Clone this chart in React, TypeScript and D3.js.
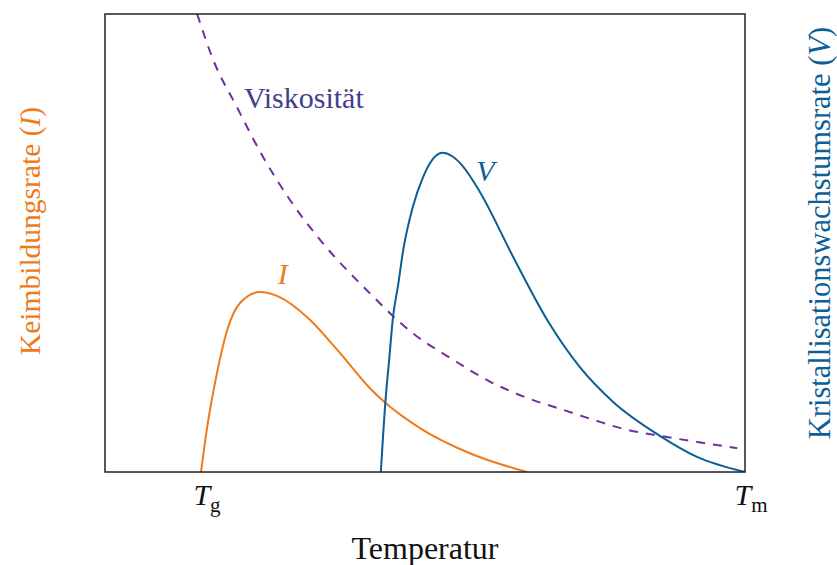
import React from "react";
import * as d3 from "d3";

// temperature runs 0..100 along x, rates 0..100 along y (arbitrary units)
const keimX = [15.0, 15.9, 17.5, 19.1, 21.1, 24.2, 27.3, 31.6, 36.7, 41.4, 43.8, 49.2, 57.0, 65.9];
const keimY = [0, 9.2, 21.6, 31.0, 36.9, 39.3, 38.2, 33.8, 26.0, 18.3, 15.1, 9.6, 4.1, 0];

const wachsX = [43.1, 43.8, 44.4, 45.0, 45.8, 46.6, 48.1, 49.7, 51.1, 52.7, 54.2, 55.9, 58.6, 63.8, 69.1, 74.2, 79.4, 86.7, 92.5, 100];
const wachsY = [0, 15.1, 24.5, 33.8, 40.8, 48.5, 57.9, 64.4, 68.1, 69.7, 69.0, 66.8, 61.1, 46.9, 33.2, 22.9, 15.3, 7.9, 3.3, 0];

const viskX = [14.4, 16.9, 20.6, 24.7, 28.9, 33.6, 40.9, 48.1, 54.4, 60.2, 66.9, 71.1, 76.3, 81.6, 86.7, 98.8];
const viskY = [100, 90.0, 79.7, 68.8, 59.4, 50.7, 39.7, 30.3, 24.5, 19.7, 15.7, 13.8, 11.4, 9.2, 7.9, 5.2];

const tickPos = [15, 100];
const tickSub = ["g", "m"];

const ORANGE = "#ef7a1a";
const BLUE = "#0b5e96";
const PURPLE = "#7030a0";
const SERIF = "'Liberation Serif', 'DejaVu Serif', serif";

export default function App() {
  const width = 837;
  const height = 565;
  const margin = { top: 14, right: 92, bottom: 93, left: 105 };
  const innerW = width - margin.left - margin.right;
  const innerH = height - margin.top - margin.bottom;

  const x = d3.scaleLinear().domain([0, 100]).range([0, innerW]);
  const y = d3.scaleLinear().domain([0, 100]).range([innerH, 0]);

  const line = d3
    .line<[number, number]>()
    .x(d => x(d[0]))
    .y(d => y(d[1]))
    .curve(d3.curveMonotoneX);

  const zip = (a: number[], b: number[]) => a.map((v, i) => [v, b[i]] as [number, number]);

  return (
    <svg
      width={width}
      height={height}
      style={{ position: "absolute", left: 0, top: 0, background: "#fff" }}
      fontFamily={SERIF}
    >
      <defs>
        <clipPath id="plot-clip">
          <rect x={0} y={0} width={innerW} height={innerH} />
        </clipPath>
      </defs>
      <g transform={`translate(${margin.left},${margin.top})`}>
        <g clipPath="url(#plot-clip)">
          <path d={line(zip(viskX, viskY)) || ""} fill="none" stroke={PURPLE} strokeWidth={2} strokeDasharray="9,8" />
          <path d={line(zip(keimX, keimY)) || ""} fill="none" stroke={ORANGE} strokeWidth={2} />
          <path d={line(zip(wachsX, wachsY)) || ""} fill="none" stroke={BLUE} strokeWidth={2} />
        </g>
        <rect x={0} y={0} width={innerW} height={innerH} fill="none" stroke="#222" strokeWidth={1.5} />

        {tickPos.map((t, i) => (
          <text key={i} x={x(t) + 6} y={innerH + 33} textAnchor="middle" fontSize={30} fill="#111">
            <tspan fontStyle="italic">T</tspan>
            <tspan fontSize={21} dy={7}>{tickSub[i]}</tspan>
          </text>
        ))}

        <text x={x(50)} y={innerH + 87} textAnchor="middle" fontSize={32} fill="#111">
          Temperatur
        </text>

        <text x={x(21.7)} y={y(79.5)} fontSize={30} fill="#40408f">
          Viskosität
        </text>
        <text x={x(27.0)} y={y(41)} fontSize={30} fontStyle="italic" fill={ORANGE}>
          I
        </text>
        <text x={x(58.0)} y={y(63.5)} fontSize={30} fontStyle="italic" fill={BLUE}>
          V
        </text>
      </g>

      <text
        transform={`translate(40,${margin.top + innerH / 2 - 12}) rotate(-90)`}
        textAnchor="middle"
        fontSize={29.5}
        fill={ORANGE}
      >
        Keimbildungsrate (<tspan fontStyle="italic">I</tspan>)
      </text>
      <text
        transform={`translate(830,${margin.top + innerH / 2 - 10}) rotate(-90)`}
        textAnchor="middle"
        fontSize={30.5}
        fill={BLUE}
      >
        Kristallisationswachstumsrate (<tspan fontStyle="italic">V</tspan>)
      </text>
    </svg>
  );
}
